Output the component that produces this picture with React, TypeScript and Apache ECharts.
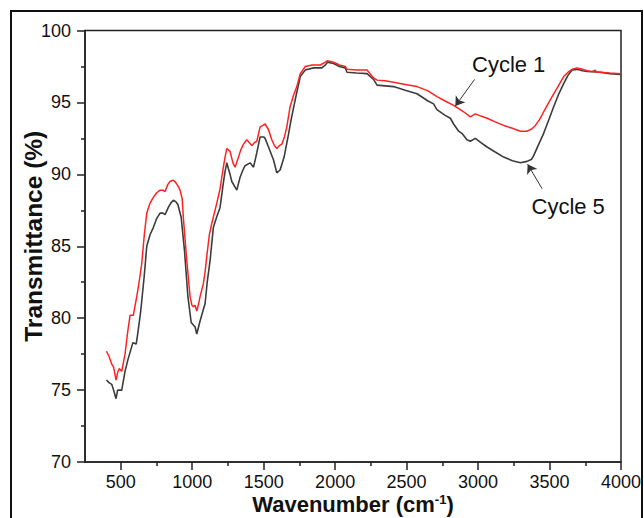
import React, { useEffect, useRef } from 'react';
import * as echarts from 'echarts';

const FONT = '"Liberation Sans", Arial, Helvetica, sans-serif';

const X_MAJOR = [500, 1000, 1500, 2000, 2500, 3000, 3500, 4000];
const X_MINOR = [750, 1250, 1750, 2250, 2750, 3250, 3750];
const Y_MAJOR = [70, 75, 80, 85, 90, 95, 100];
const Y_MINOR = [72.5, 77.5, 82.5, 87.5, 92.5, 97.5];

const cycle1: number[][] = [
  [400, 77.7], [420, 77.3], [437, 76.8], [450, 76.6], [467, 75.7], [478, 76.2], [490, 76.5], [507, 76.3],
  [530, 77.5], [548, 79.0], [565, 80.2], [588, 80.2], [612, 81.5], [630, 82.6], [647, 83.8], [665, 85.8],
  [682, 87.3], [705, 88.0], [728, 88.4], [750, 88.7], [775, 88.9], [795, 88.9], [810, 88.8], [830, 89.3],
  [845, 89.5], [865, 89.6], [880, 89.5], [900, 89.2], [915, 88.9], [930, 88.3], [938, 87.0], [950, 85.5],
  [962, 84.0], [975, 82.6], [985, 81.5], [998, 80.9], [1008, 80.8], [1020, 80.9], [1032, 80.5], [1045, 81.0],
  [1055, 81.5], [1078, 82.4], [1090, 83.2], [1102, 84.3], [1120, 85.8], [1137, 86.6], [1155, 87.3], [1172, 88.0],
  [1195, 89.0], [1218, 90.5], [1230, 91.2], [1242, 91.8], [1265, 91.6], [1285, 90.8], [1300, 90.5], [1324, 91.2],
  [1340, 91.7], [1359, 92.1], [1382, 92.4], [1400, 92.2], [1417, 92.0], [1435, 92.2], [1452, 92.3], [1475, 93.3],
  [1495, 93.4], [1510, 93.5], [1534, 93.1], [1557, 92.4], [1575, 92.0], [1592, 91.8], [1610, 92.0], [1627, 92.1],
  [1645, 92.6], [1662, 93.3], [1685, 94.7], [1709, 95.5], [1732, 96.1], [1756, 97.0], [1791, 97.5], [1838, 97.6],
  [1896, 97.6], [1931, 97.8], [1947, 97.9], [1989, 97.8], [2030, 97.6], [2071, 97.5], [2083, 97.3], [2150, 97.25],
  [2223, 97.25], [2269, 96.7], [2293, 96.55], [2350, 96.5], [2409, 96.4], [2490, 96.25], [2573, 96.1], [2650, 95.8],
  [2712, 95.4], [2770, 95.1], [2829, 94.8], [2899, 94.35], [2946, 94.0], [2981, 94.2], [3020, 94.05], [3063, 93.9],
  [3120, 93.65], [3179, 93.4], [3240, 93.2], [3296, 93.0], [3343, 93.0], [3375, 93.15], [3401, 93.4], [3430, 93.8],
  [3459, 94.35], [3495, 95.0], [3529, 95.6], [3565, 96.2], [3599, 96.8], [3630, 97.1], [3658, 97.3], [3693, 97.4],
  [3730, 97.3], [3763, 97.2], [3800, 97.15], [3820, 97.25], [3830, 97.1], [3856, 97.1], [3920, 97.05], [3996, 97.0]
];

const cycle5: number[][] = [
  [400, 75.7], [420, 75.5], [437, 75.4], [450, 75.0], [467, 74.4], [478, 75.0], [490, 75.0], [507, 75.0],
  [530, 76.3], [550, 77.1], [585, 78.3], [608, 78.2], [620, 79.0], [640, 80.5], [665, 83.0], [682, 85.0],
  [705, 85.8], [728, 86.3], [750, 86.9], [775, 87.3], [795, 87.3], [810, 87.2], [833, 87.7], [850, 88.0],
  [868, 88.2], [885, 88.1], [900, 87.9], [923, 87.0], [946, 84.7], [970, 81.5], [993, 79.7], [1010, 79.5],
  [1020, 79.4], [1032, 78.9], [1045, 79.4], [1055, 79.8], [1075, 80.5], [1090, 81.0], [1105, 82.5], [1125, 84.0],
  [1148, 86.3], [1170, 87.0], [1195, 87.7], [1218, 89.4], [1230, 90.2], [1242, 90.8], [1253, 90.4], [1265, 90.0],
  [1277, 89.5], [1312, 88.9], [1335, 89.8], [1355, 90.3], [1370, 90.6], [1405, 90.8], [1429, 90.5], [1452, 91.5],
  [1475, 92.6], [1500, 92.6], [1510, 92.5], [1534, 91.9], [1569, 91.0], [1592, 90.1], [1615, 90.3], [1643, 91.2],
  [1674, 92.8], [1690, 93.7], [1721, 95.2], [1756, 96.8], [1791, 97.25], [1849, 97.4], [1907, 97.4], [1931, 97.6],
  [1947, 97.8], [1989, 97.7], [2030, 97.5], [2071, 97.4], [2083, 97.1], [2150, 97.05], [2223, 97.0], [2269, 96.6],
  [2293, 96.2], [2350, 96.15], [2409, 96.1], [2490, 95.85], [2573, 95.6], [2650, 95.1], [2689, 94.9], [2712, 94.5],
  [2770, 94.1], [2806, 93.9], [2829, 93.5], [2864, 93.0], [2887, 92.85], [2922, 92.4], [2946, 92.3], [2981, 92.5],
  [3020, 92.2], [3063, 91.9], [3120, 91.55], [3179, 91.2], [3240, 90.95], [3296, 90.8], [3343, 90.9], [3375, 91.05],
  [3389, 91.3], [3420, 92.0], [3459, 92.85], [3495, 93.8], [3529, 94.7], [3565, 95.6], [3599, 96.3], [3630, 96.9],
  [3658, 97.25], [3693, 97.3], [3730, 97.2], [3763, 97.15], [3856, 97.1], [3920, 97.0], [3996, 96.95]
];

const arrow1 = [[2976, 96.6], [2841, 94.75]];
const arrow5 = [[3448, 89.0], [3347, 90.7]];

export default function App() {
  const ref = useRef<HTMLDivElement>(null);
  useEffect(() => {
    const chart = echarts.init(ref.current!, null, { renderer: 'svg' });
    const axisColor = '#222';
    const plain = (v: number) => String(v);
    const markLineOf = (pts: number[][]) => ({
      silent: true,
      animation: false,
      symbol: ['none', 'arrow'],
      symbolSize: 9,
      label: { show: false },
      lineStyle: { type: 'solid', color: '#333', width: 1 },
      emphasis: { disabled: true },
      data: [[{ coord: pts[0] }, { coord: pts[1] }]]
    });
    chart.setOption({
      animation: false,
      backgroundColor: '#fff',
      textStyle: { fontFamily: FONT },
      grid: {
        left: 85, top: 30.5, right: 23, bottom: 56,
        containLabel: false, outerBoundsMode: 'none',
        show: true, borderColor: axisColor, borderWidth: 1.5, backgroundColor: 'transparent'
      },
      xAxis: [
        {
          type: 'value', min: 250, max: 4000, position: 'bottom',
          axisLine: { show: true, onZero: false, lineStyle: { color: axisColor, width: 1.5 } },
          axisTick: { show: true, length: 8, customValues: X_MAJOR, lineStyle: { color: axisColor, width: 1.5 } },
          axisLabel: { customValues: X_MAJOR, formatter: plain, fontSize: 18, lineHeight: 18, color: '#111', margin: 10.5, fontFamily: FONT },
          splitLine: { show: false },
          name: '{a|Wavenumber (cm}{s|-1}{a|)}',
          nameLocation: 'middle', nameGap: 31, nameMoveOverlap: false,
          nameTextStyle: {
            rich: {
              a: { fontSize: 22, fontWeight: 'bold', color: '#111', fontFamily: FONT, lineHeight: 22 },
              s: { fontSize: 13, fontWeight: 'bold', color: '#111', fontFamily: FONT, verticalAlign: 'top', lineHeight: 13 }
            }
          }
        },
        {
          type: 'value', min: 250, max: 4000, position: 'bottom', gridIndex: 0, offset: 0,
          axisLine: { show: false, onZero: false },
          axisTick: { show: true, length: 4, customValues: X_MINOR, lineStyle: { color: axisColor, width: 1.5 } },
          axisLabel: { show: false },
          splitLine: { show: false }
        }
      ],
      yAxis: [
        {
          type: 'value', min: 70, max: 100, position: 'left',
          axisLine: { show: true, onZero: false, lineStyle: { color: axisColor, width: 1.5 } },
          axisTick: { show: true, length: 8, customValues: Y_MAJOR, lineStyle: { color: axisColor, width: 1.5 } },
          axisLabel: { customValues: Y_MAJOR, formatter: plain, fontSize: 18, color: '#111', margin: 14, fontFamily: FONT },
          splitLine: { show: false },
          name: 'Transmittance (%)',
          nameLocation: 'middle', nameGap: 39, nameMoveOverlap: false,
          nameTextStyle: { fontSize: 24.5, fontWeight: 'bold', color: '#111', fontFamily: FONT, padding: [0, 0, 0, 20] }
        },
        {
          type: 'value', min: 70, max: 100, position: 'left', offset: 0,
          axisLine: { show: false, onZero: false },
          axisTick: { show: true, length: 4, customValues: Y_MINOR, lineStyle: { color: axisColor, width: 1.5 } },
          axisLabel: { show: false },
          splitLine: { show: false }
        }
      ],
      series: [
        {
          type: 'line', name: 'Cycle 5', data: cycle5, xAxisIndex: 0, yAxisIndex: 0,
          showSymbol: false, symbol: 'none',
          lineStyle: { color: '#3c3c3c', width: 1.6 },
          markLine: markLineOf(arrow5)
        },
        {
          type: 'line', name: 'Cycle 1', data: cycle1, xAxisIndex: 0, yAxisIndex: 0,
          showSymbol: false, symbol: 'none',
          lineStyle: { color: '#ff2222', width: 1.5 },
          markLine: markLineOf(arrow1)
        }
      ],
      graphic: [
        {
          type: 'rect', silent: true,
          shape: { x: 11, y: 11, width: 631, height: 530 },
          style: { fill: 'none', stroke: '#111', lineWidth: 2 }
        },
        {
          type: 'text', x: 472, y: 53.5, silent: true,
          style: { text: 'Cycle 1', font: `22px ${FONT}`, fill: '#111', textVerticalAlign: 'top' }
        },
        {
          type: 'text', x: 531.5, y: 195.5, silent: true,
          style: { text: 'Cycle 5', font: `22px ${FONT}`, fill: '#111', textVerticalAlign: 'top' }
        }
      ]
    });
    return () => chart.dispose();
  }, []);
  return (
    <div
      ref={ref}
      style={{ position: 'fixed', left: 0, top: 0, width: 644, height: 518, background: '#fff' }}
    />
  );
}
